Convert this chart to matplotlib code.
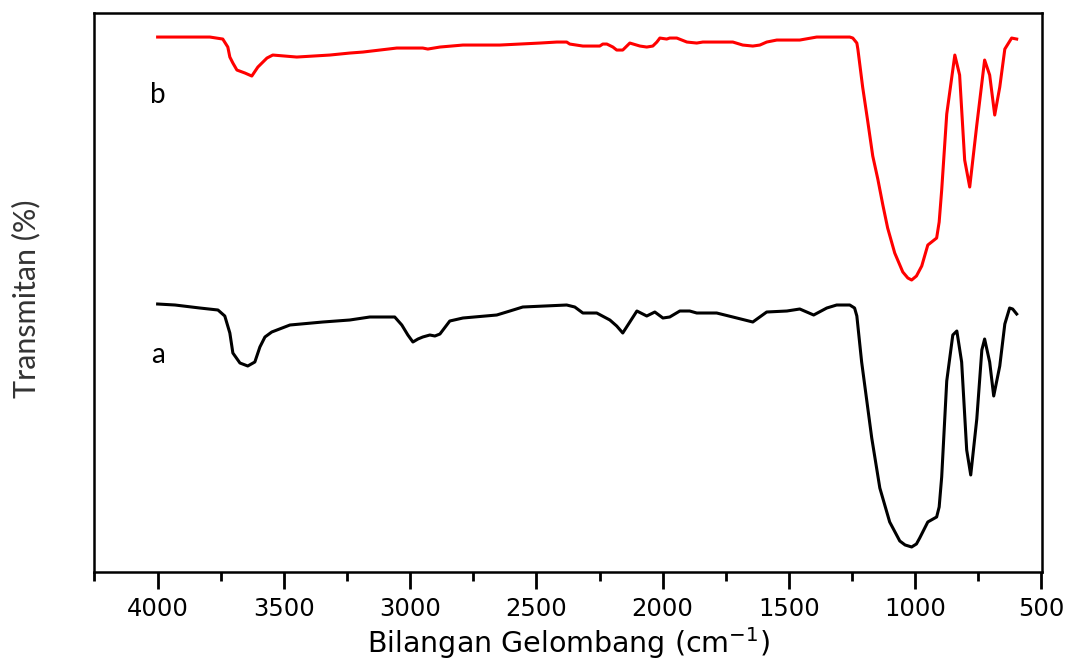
import numpy as np
import matplotlib.pyplot as plt
from matplotlib.ticker import MultipleLocator

# spectrum a (black) - wavenumber (cm-1) and transmittance (arbitrary units)
wn_a = [4000, 3931, 3833, 3761, 3734, 3714, 3702, 3674, 3643, 3615, 3595, 3575, 3548,
        3476, 3346, 3239, 3160, 3061, 3033, 3009, 2989, 2969, 2950, 2922, 2902, 2882,
        2843, 2791, 2657, 2605, 2554, 2380, 2348, 2316, 2261, 2209, 2182, 2158, 2130,
        2102, 2063, 2031, 1999, 1972, 1932, 1893, 1865, 1786, 1722, 1643, 1588, 1508,
        1457, 1402, 1350, 1311, 1259, 1240, 1231, 1212, 1192, 1172, 1140, 1101, 1061,
        1040, 1014, 995, 982, 950, 915, 905, 895, 875, 851, 835, 816, 796, 780, 756,
        736, 725, 705, 689, 665, 645, 626, 614, 598]
t_a = [268, 267, 264, 262, 256, 239, 219, 209, 206, 210, 225, 235, 240,
       247, 250, 252, 255, 255, 247, 237, 230, 233, 235, 237, 236, 238,
       251, 254, 257, 261, 265, 267, 265, 259, 259, 252, 246, 239, 250,
       261, 256, 260, 254, 255, 261, 261, 259, 259, 255, 250, 260, 261,
       263, 257, 264, 267, 267, 264, 256, 210, 172, 134, 84, 50, 31,
       27, 25, 28, 34, 50, 55, 65, 95, 191, 237, 241, 210, 122, 97, 153,
       222, 233, 210, 176, 206, 248, 264, 263, 258]

# spectrum b (red)
wn_b = [4000, 3900, 3793, 3742, 3722, 3714, 3702, 3686, 3654, 3627, 3603, 3567, 3544,
        3449, 3318, 3239, 3187, 3053, 2950, 2930, 2882, 2791, 2645, 2486, 2419, 2380,
        2368, 2316, 2249, 2237, 2221, 2197, 2182, 2158, 2142, 2130, 2090, 2063, 2039,
        2023, 2011, 1984, 1972, 1944, 1904, 1865, 1841, 1722, 1683, 1643, 1615, 1588,
        1548, 1457, 1390, 1259, 1247, 1231, 1227, 1208, 1188, 1168, 1148, 1128, 1109,
        1081, 1049, 1029, 1014, 995, 974, 950, 915, 905, 895, 875, 843, 824, 804, 784,
        756, 725, 705, 685, 665, 645, 618, 598]
t_b = [535, 535, 535, 533, 525, 515, 509, 502, 499, 496, 505, 514, 517,
       515, 517, 519, 520, 524, 524, 523, 525, 527, 527, 529, 530, 530,
       528, 526, 526, 528, 528, 525, 522, 522, 526, 529, 526, 525, 526,
       530, 534, 533, 534, 534, 530, 529, 530, 530, 527, 526, 527, 530,
       532, 532, 535, 535, 534, 529, 523, 485, 451, 416, 393, 367, 344,
       319, 300, 294, 292, 296, 306, 327, 334, 350, 382, 458, 517, 497, 412, 385,
       447, 512, 497, 457, 485, 523, 534, 533]

fig = plt.figure(figsize=(10.68, 6.64), dpi=100)
ax = fig.add_axes([0.088, 0.1386, 0.8876, 0.8425])

ax.plot(wn_a, t_a, color="black", lw=2.2, solid_joinstyle="round")
ax.plot(wn_b, t_b, color="red", lw=2.2, solid_joinstyle="round")

ax.text(4000, 477, "b", fontsize=20, family="Lato", ha="center", va="center")
ax.text(4000, 217, "a", fontsize=20, family="Lato", ha="center", va="center")

ax.set_xlim(4252, 498)
ax.set_ylim(0, 559.5)
ax.xaxis.set_major_locator(MultipleLocator(500))
ax.xaxis.set_minor_locator(MultipleLocator(250))
ax.set_yticks([])
ax.tick_params(axis="x", which="major", length=12, width=2, direction="out",
               labelsize=17.5, pad=6)
ax.tick_params(axis="x", which="minor", length=6.5, width=2, direction="out")
for lab in ax.get_xticklabels():
    lab.set_family("DejaVu Sans")
for sp in ax.spines.values():
    sp.set_linewidth(1.8)

ax.set_xlabel("Bilangan Gelombang (cm$^{-1}$)", fontsize=20.5, family="DejaVu Sans",
              labelpad=3)
fig.text(0.024, 0.55, "Transmitan (%)", rotation=90, fontsize=22, family="Lato",
         color="#333333", ha="center", va="center")

fig.savefig("out.png", dpi=100)
